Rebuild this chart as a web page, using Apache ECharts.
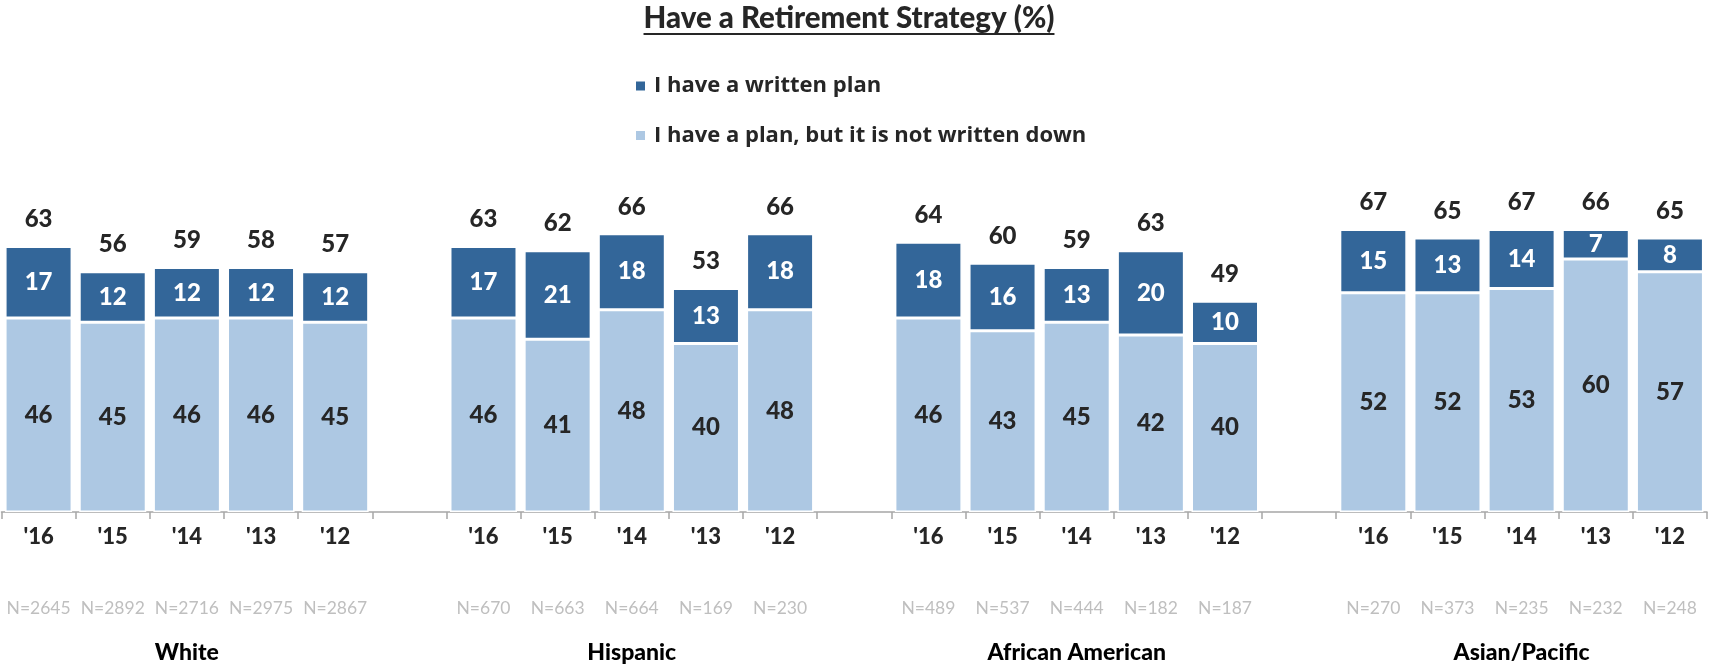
<!DOCTYPE html>
<html>
<head>
<meta charset="utf-8">
<style>
html,body{margin:0;padding:0;background:#fff;}
#chart{width:1709px;height:666px;}
</style>
<script src="https://cdn.jsdelivr.net/npm/echarts@6/dist/echarts.min.js"></script>
</head>
<body>
<div id="chart"></div>
<script>
// ---- data ----
var titleText = 'Have a Retirement Strategy (%)';
var seriesNames = ['I have a written plan', 'I have a plan, but it is not written down'];
var groups = ['White', 'Hispanic', 'African American', 'Asian/Pacific'];
var years = ["'16", "'15", "'14", "'13", "'12"];
var sampleSizes = [
  ['N=2645', 'N=2892', 'N=2716', 'N=2975', 'N=2867'],
  ['N=670', 'N=663', 'N=664', 'N=169', 'N=230'],
  ['N=489', 'N=537', 'N=444', 'N=182', 'N=187'],
  ['N=270', 'N=373', 'N=235', 'N=232', 'N=248']
];
var writtenPlan = [
  [17, 12, 12, 12, 12],
  [17, 21, 18, 13, 18],
  [18, 16, 13, 20, 10],
  [15, 13, 14, 7, 8]
];
var notWritten = [
  [46, 45, 46, 46, 45],
  [46, 41, 48, 40, 48],
  [46, 43, 45, 42, 40],
  [52, 52, 53, 60, 57]
];
var totals = [
  [63, 56, 59, 58, 57],
  [63, 62, 66, 53, 66],
  [64, 60, 59, 63, 49],
  [67, 65, 67, 66, 65]
];

// ---- flatten with gap slots between groups ----
var catYears = [], catN = [], catGroup = [], dWritten = [], dNot = [], dTot = [], totLabels = [];
groups.forEach(function (g, gi) {
  years.forEach(function (y, yi) {
    catYears.push(y);
    catN.push(sampleSizes[gi][yi]);
    catGroup.push(yi === 2 ? g : '');
    dWritten.push(writtenPlan[gi][yi]);
    dNot.push(notWritten[gi][yi]);
    dTot.push(0);
    totLabels.push(totals[gi][yi]);
  });
  if (gi < groups.length - 1) {
    catYears.push(''); catN.push(''); catGroup.push('');
    dWritten.push('-'); dNot.push('-'); dTot.push('-'); totLabels.push('');
  }
});

var DARK = '#336699', LIGHT = '#adc8e3';
var FONT = 'Lato';
var W = 900;
var TXT = '#262626';

var chart = echarts.init(document.getElementById('chart'), null, {renderer: 'canvas'});

// measure title width for underline
var TFS = 29.5;
var ctx = document.createElement('canvas').getContext('2d');
ctx.font = W + ' ' + TFS + 'px ' + FONT;
var tw = ctx.measureText(titleText).width;
var tcx = 849;

var barW = 67;
var NUMFS = 24;
var option = {
  animation: false,
  backgroundColor: '#fff',
  title: {
    text: titleText,
    left: tcx,
    textAlign: 'center',
    top: 3,
    padding: 0,
    textStyle: {fontFamily: FONT, fontWeight: W, fontSize: TFS, color: TXT}
  },
  graphic: [{
    type: 'line',
    shape: {x1: tcx - tw / 2, y1: 34, x2: tcx + tw / 2, y2: 34},
    style: {stroke: TXT, lineWidth: 1.8}
  }],
  legend: {
    orient: 'vertical',
    left: 634,
    top: 73,
    padding: 0,
    itemWidth: 11,
    itemHeight: 11,
    itemGap: 23.5,
    icon: 'rect',
    data: [seriesNames[0], seriesNames[1]],
    textStyle: {fontFamily: 'Open Sans', fontWeight: 700, fontSize: 22, color: TXT, lineHeight: 26, padding: [0, 0, 0, 3]}
  },
  grid: {left: 1.5, right: 2, top: 90.5, height: 421.5, containLabel: false},
  xAxis: [{
    type: 'category',
    data: catYears,
    axisLine: {lineStyle: {color: '#a6a6a6', width: 1.5}},
    axisTick: {show: true, interval: 0, length: 7, lineStyle: {color: '#a6a6a6', width: 1.5}},
    axisLabel: {interval: 0, margin: 14, fontFamily: FONT, fontWeight: W, fontSize: 22, color: TXT}
  }, {
    type: 'category',
    data: catN,
    position: 'bottom',
    offset: 80,
    axisLine: {show: false},
    axisTick: {show: false},
    axisLabel: {interval: 0, margin: 7, fontFamily: FONT, fontSize: 17.5, color: '#bfbfbf'}
  }, {
    type: 'category',
    data: catGroup,
    position: 'bottom',
    offset: 120,
    axisLine: {show: false},
    axisTick: {show: false},
    axisLabel: {interval: 0, margin: 9, fontFamily: FONT, fontWeight: W, fontSize: 23, color: '#000'}
  }],
  yAxis: {type: 'value', min: 0, max: 100, show: false},
  series: [{
    name: seriesNames[1],
    type: 'bar',
    stack: 's',
    barWidth: barW,
    data: dNot,
    itemStyle: {color: LIGHT, borderColor: '#fff', borderWidth: 1.5},
    label: {show: true, position: 'inside', fontFamily: FONT, fontWeight: W, fontSize: NUMFS, color: TXT}
  }, {
    name: seriesNames[0],
    type: 'bar',
    stack: 's',
    barWidth: barW,
    data: dWritten,
    itemStyle: {color: DARK, borderColor: '#fff', borderWidth: 1.5},
    label: {show: true, position: 'inside', fontFamily: FONT, fontWeight: W, fontSize: NUMFS, color: '#fff'}
  }, {
    name: 'Total',
    type: 'bar',
    stack: 's',
    barWidth: barW,
    data: dTot,
    itemStyle: {color: 'rgba(0,0,0,0)', borderWidth: 0},
    label: {
      show: true, position: 'top', distance: 15,
      fontFamily: FONT, fontWeight: W, fontSize: NUMFS, color: TXT,
      formatter: function (p) { return totLabels[p.dataIndex]; }
    }
  }]
};
chart.setOption(option);
</script>
</body>
</html>
